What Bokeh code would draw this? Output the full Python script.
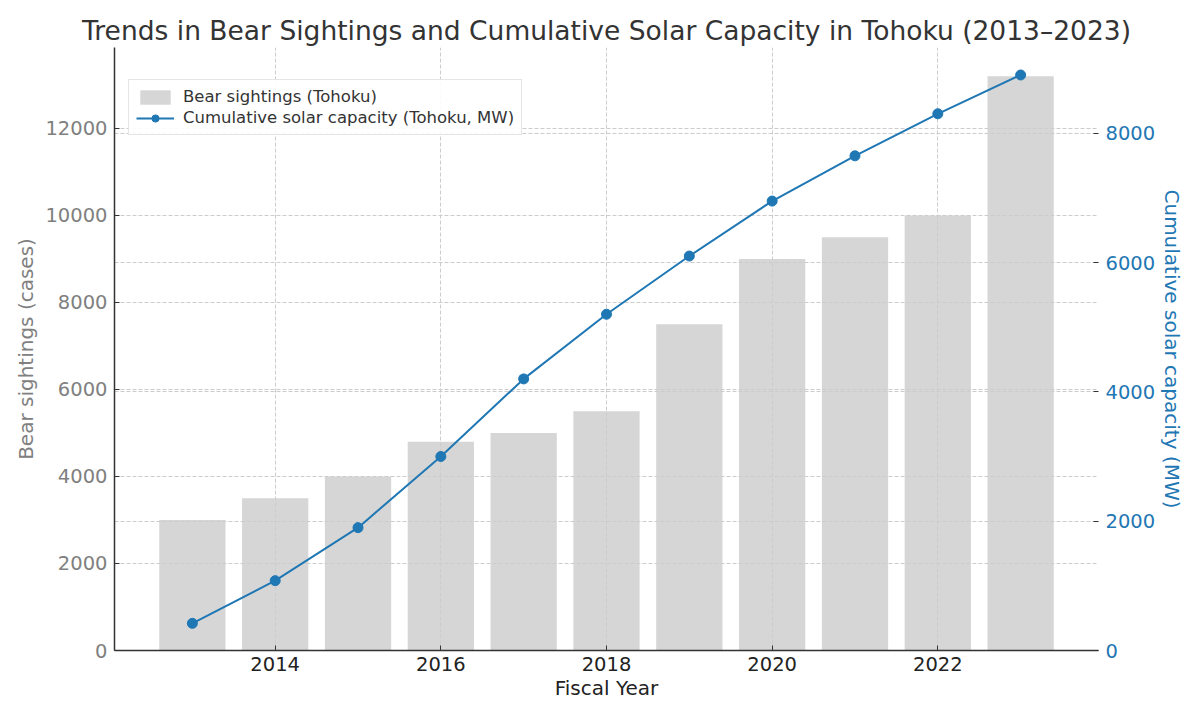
from bokeh.plotting import figure
from bokeh.models import (ColumnDataSource, Range1d, LinearAxis, SingleIntervalTicker,
                          Grid, Legend, LegendItem)
from bokeh.embed import file_html
from bokeh.resources import INLINE

# ---- data ----
years = [2013, 2014, 2015, 2016, 2017, 2018, 2019, 2020, 2021, 2022, 2023]
bear_sightings = [3000, 3500, 4000, 4800, 5000, 5500, 7500, 9000, 9500, 10000, 13200]
solar_mw = [420, 1080, 1900, 3000, 4200, 5200, 6100, 6950, 7650, 8300, 8900]

title_text = "Trends in Bear Sightings and Cumulative Solar Capacity in Tohoku (2013–2023)"
x_label = "Fiscal Year"
left_label = "Bear sightings (cases)"
right_label = "Cumulative solar capacity (MW)"
bar_legend = "Bear sightings (Tohoku)"
line_legend = "Cumulative solar capacity (Tohoku, MW)"

FONT = "DejaVu Sans"
BLUE = "#1f77b4"
GRAY_TXT = "#808080"
DARK = "#333333"
GRID = "#cccccc"

src = ColumnDataSource(dict(year=years, bears=bear_sightings, solar=solar_mw))

p = figure(width=1188, height=704, output_backend="svg", toolbar_location=None,
           x_range=Range1d(2012.06, 2023.94), y_range=Range1d(0, 13860),
           min_border_left=114, min_border_right=90, min_border_top=47, min_border_bottom=54)
p.extra_y_ranges = {"solar": Range1d(0, 9325)}
p.outline_line_color = None
p.background_fill_color = "white"

p.title.text = title_text
p.title.text_font = FONT
p.title.text_font_size = "26.5px"
p.title.text_font_style = "normal"
p.title.text_color = DARK
p.title.align = "center"
p.title.standoff = 4

bars = p.vbar(x="year", top="bears", width=0.8, source=src, fill_color="#d3d3d3",
              fill_alpha=0.92, line_color=None, level="image")
line = p.line(x="year", y="solar", source=src, line_color=BLUE, line_width=2,
              y_range_name="solar")
pts = p.scatter(x="year", y="solar", source=src, size=10, fill_color=BLUE, line_color=BLUE,
                y_range_name="solar")

# axes
xa = p.xaxis[0]
xa.ticker = SingleIntervalTicker(interval=2)
ya = p.yaxis[0]
ya.ticker = SingleIntervalTicker(interval=2000)

for ax in (xa, ya):
    ax.axis_line_color = DARK
    ax.axis_line_width = 1.5
    ax.major_tick_line_color = DARK
    ax.major_tick_in = 5
    ax.major_tick_out = 0
    ax.minor_tick_line_color = None
    ax.major_label_text_font = FONT
    ax.major_label_text_font_size = "19.5px"
    ax.axis_label_text_font = FONT
    ax.axis_label_text_font_size = "20px"
    ax.axis_label_text_font_style = "normal"

xa.axis_label = x_label
xa.major_label_text_color = "#222222"
xa.axis_label_text_color = "#222222"
xa.major_label_standoff = 2
xa.axis_label_standoff = 2

ya.axis_label = left_label
ya.major_label_text_color = GRAY_TXT
ya.axis_label_text_color = GRAY_TXT
ya.major_label_standoff = 3
ya.axis_label_standoff = 4

ra = LinearAxis(y_range_name="solar", ticker=SingleIntervalTicker(interval=2000),
                axis_label=right_label)
ra.axis_line_color = None
ra.major_tick_line_color = DARK
ra.major_tick_in = 5
ra.major_tick_out = 0
ra.minor_tick_line_color = None
ra.major_label_text_font = FONT
ra.major_label_text_font_size = "19.5px"
ra.major_label_text_color = BLUE
ra.major_label_standoff = 3
ra.axis_label_text_font = FONT
ra.axis_label_text_font_size = "20px"
ra.axis_label_text_font_style = "normal"
ra.axis_label_text_color = BLUE
ra.axis_label_standoff = 2
p.add_layout(ra, "right")

# grids
for g in (p.xgrid[0], p.ygrid[0]):
    g.grid_line_color = GRID
    g.grid_line_dash = "4 2"
    g.grid_line_width = 1
    g.level = "underlay"
p.xgrid[0].ticker = xa.ticker
p.ygrid[0].ticker = ya.ticker

rg = Grid(dimension=1, ticker=ra.ticker, y_range_name="solar", grid_line_color=GRID,
          grid_line_dash="4 2", grid_line_width=1, level="underlay")
p.add_layout(rg)

legend = Legend(items=[LegendItem(label=bar_legend, renderers=[bars]),
                       LegendItem(label=line_legend, renderers=[line, pts])],
                location=(14, 515))
legend.label_text_font = FONT
legend.label_text_font_size = "16.5px"
legend.label_text_color = DARK
legend.border_line_color = "#cccccc"
legend.border_line_width = 1
legend.background_fill_alpha = 0.9
legend.glyph_width = 38
legend.glyph_height = 18
legend.label_standoff = 9
legend.spacing = 2
legend.padding = 7
legend.margin = 0
p.add_layout(legend, "center")

open("out.html", "w").write(file_html(p, INLINE))
